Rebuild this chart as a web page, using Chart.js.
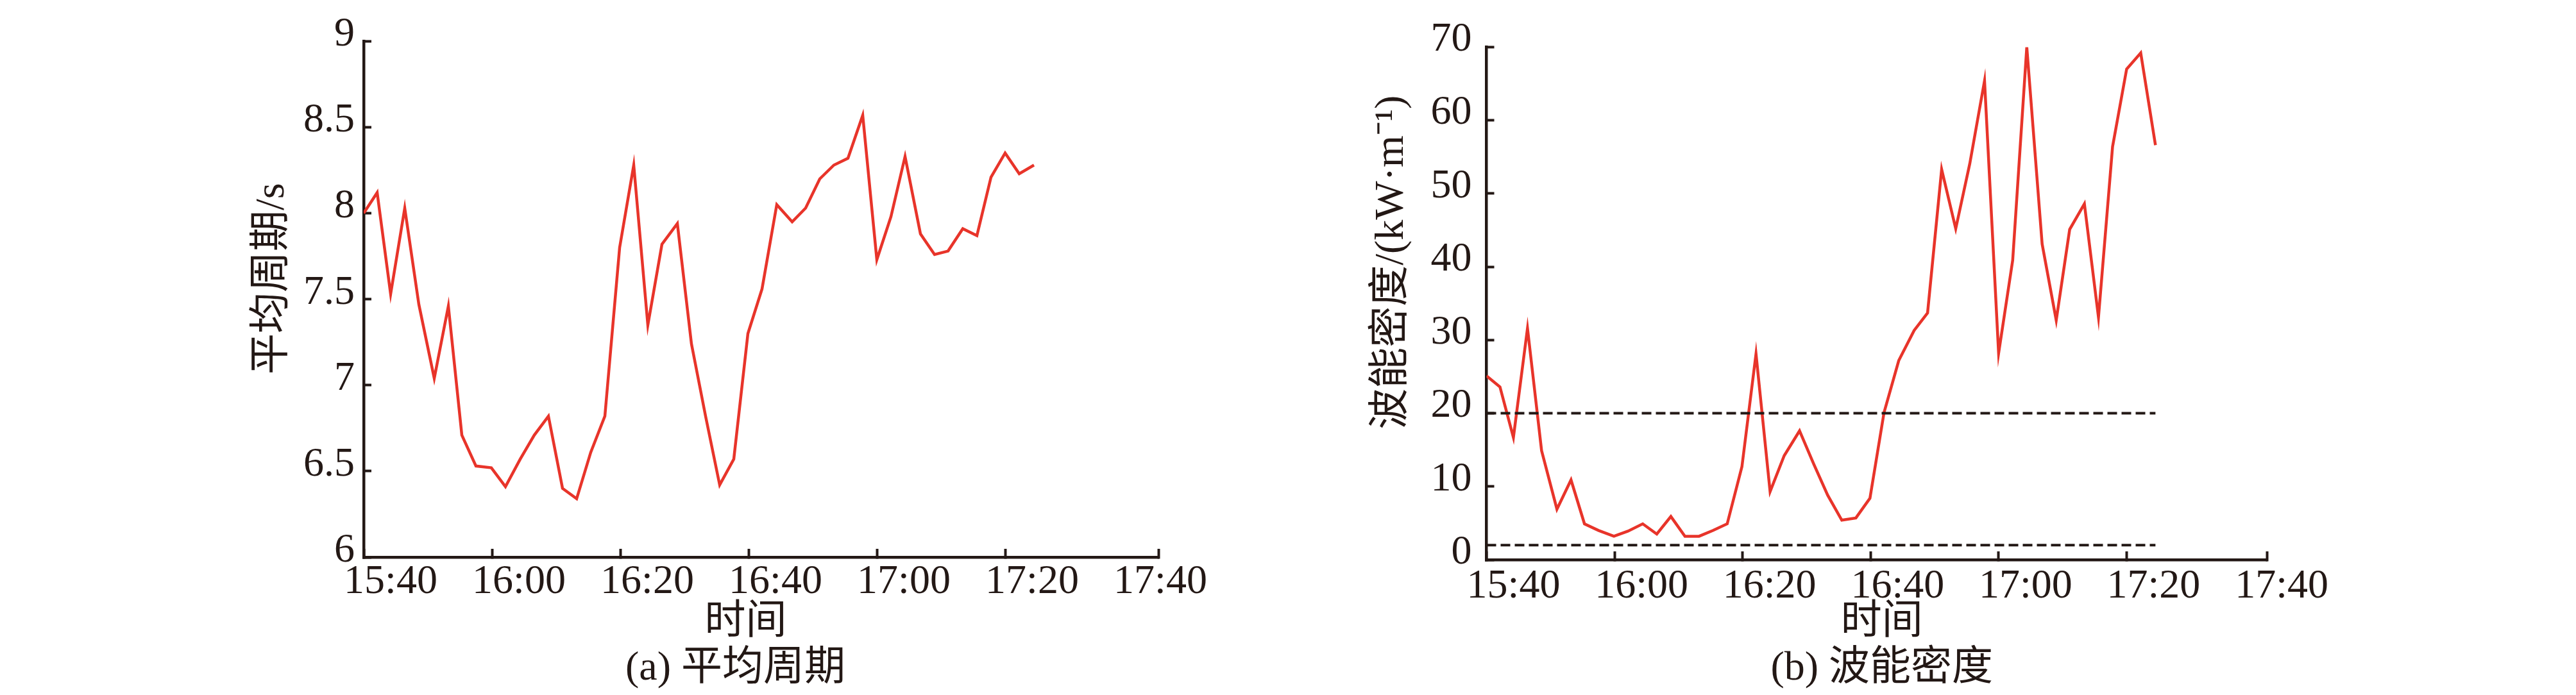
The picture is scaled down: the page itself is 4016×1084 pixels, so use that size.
<!DOCTYPE html>
<html>
<head>
<meta charset="utf-8">
<script src="https://cdn.jsdelivr.net/npm/chart.js@4.4.0/dist/chart.umd.min.js"></script>
<style>
  body { margin: 0; background: #fff; }
  #wrap { position: relative; width: 4016px; height: 1084px; }
  canvas { position: absolute; top: 0; }
</style>
</head>
<body>
<div id="wrap">
  <canvas id="periodChart" width="2008" height="1084" style="left:0"></canvas>
  <canvas id="powerChart" width="2008" height="1084" style="left:2008px"></canvas>
</div>
<script>
// minutes after 15:40
const times = [0, 2.1, 4.2, 6.4, 8.6, 11.0, 13.2, 15.3, 17.5, 19.9, 22.1, 24.4, 26.6, 28.8, 31.0, 33.2,
  35.4, 37.6, 39.9, 42.1, 44.3, 46.5, 48.9, 51.1, 53.3, 55.5, 57.7, 59.9, 62.1, 64.4, 66.8, 68.9,
  71.1, 73.3, 75.5, 77.8, 80.0, 82.2, 84.4, 86.8, 89.0, 91.1, 93.4, 95.6, 97.8, 100.0, 102.2, 104.5];

// mean period, s
const periods = [8.00, 8.12, 7.53, 8.03, 7.47, 7.04, 7.46, 6.71, 6.53, 6.52, 6.41, 6.57, 6.71, 6.82, 6.40, 6.34,
  6.61, 6.82, 7.80, 8.28, 7.35, 7.82, 7.94, 7.24, 6.82, 6.42, 6.57, 7.30, 7.56, 8.05, 7.95, 8.03,
  8.20, 8.28, 8.32, 8.57, 7.73, 7.98, 8.33, 7.88, 7.76, 7.78, 7.91, 7.87, 8.21, 8.35, 8.23, 8.28];

// wave power density, kW/m
const power = [25.1, 23.6, 16.7, 31.6, 14.9, 6.9, 10.9, 4.9, 4.0, 3.2, 3.9, 4.9, 3.5, 5.9, 3.2, 3.2,
  4.0, 4.9, 12.7, 28.1, 9.3, 14.2, 17.6, 13.1, 8.8, 5.4, 5.7, 8.4, 20.1, 27.2, 31.3, 33.7,
  53.3, 45.2, 54.1, 65.4, 28.2, 40.9, 70.0, 43.1, 32.7, 45.1, 48.6, 33.1, 56.4, 67.0, 69.2, 56.6];

const powerLimits = [20, 2];

const tickTimes = [0, 20, 40, 60, 80, 100, 120];
const tickLabels = ['15:40', '16:00', '16:20', '16:40', '17:00', '17:20', '17:40'];

const ink = '#231815';
const red = 'rgb(232,52,42)';

Chart.defaults.font.family = '"Liberation Serif", "Noto Sans CJK SC", serif';
Chart.defaults.color = ink;

function timeAxis(max, height, pad, title) {
  return {
    type: 'linear',
    min: 0,
    max: max,
    afterBuildTicks: axis => {
      axis.ticks = tickTimes.concat([max]).map(v => ({ value: v }));
    },
    afterFit: axis => { axis.height = height; },
    ticks: {
      autoSkip: false,
      maxRotation: 0,
      labelOffset: 42,
      padding: pad,
      font: { size: 64 },
      callback: v => {
        const i = tickTimes.indexOf(v);
        return i < 0 ? '' : tickLabels[i];
      }
    },
    grid: {
      drawOnChartArea: false,
      tickLength: -13,
      tickWidth: 4,
      tickColor: c => (c.tick && c.tick.value === 120) ? 'rgba(0,0,0,0)' : ink
    },
    border: { color: ink, width: 4.5 },
    title: { display: true, text: title, font: { size: 64, lineHeight: 1 }, padding: { top: 0, bottom: 1.6 } }
  };
}

function valueAxis(min, max, step, width, pad, offset, title) {
  return {
    min: min,
    max: max,
    afterFit: axis => { axis.width = width; },
    ticks: {
      stepSize: step,
      padding: pad,
      labelOffset: offset,
      font: { size: 64 },
      callback: v => String(v)
    },
    grid: { drawOnChartArea: false, tickLength: -12, tickWidth: 4, tickColor: ink },
    border: { color: ink, width: 4.5 },
    title: { display: true, text: title, font: { size: 64 }, padding: { top: 7, bottom: 0 } }
  };
}

function caption(text) {
  return {
    display: true,
    position: 'bottom',
    fullSize: false,
    text: text,
    color: ink,
    font: { size: 64, weight: 'normal' },
    padding: { top: 0, bottom: 2.6 }
  };
}

const periodPoints = times.map((t, i) => ({ x: t, y: periods[i] }));
const powerPoints = times.map((t, i) => ({ x: t, y: power[i] }));

new Chart(document.getElementById('periodChart'), {
  type: 'line',
  data: {
    datasets: [{
      data: periodPoints,
      borderColor: red,
      borderWidth: 4.5,
      pointRadius: 0,
      tension: 0
    }]
  },
  options: {
    responsive: false,
    animation: false,
    devicePixelRatio: 1,
    layout: { padding: { left: 380, right: 202, top: 47, bottom: 0 } },
    scales: {
      x: timeAxis(123.9, 135.6, 13.6, '时间   '),
      y: valueAxis(6, 9, 0.5, 187, 26, -10, '    平均周期/s')
    },
    plugins: {
      legend: { display: false },
      tooltip: { enabled: false },
      title: caption('(a) 平均周期     ')
    }
  }
});

const limitSets = powerLimits.map(v => ({
  data: [{ x: times[0], y: v }, { x: times[times.length - 1], y: v }],
  borderColor: ink,
  borderWidth: 4,
  borderDash: [15, 7],
  pointRadius: 0
}));

new Chart(document.getElementById('powerChart'), {
  type: 'line',
  data: {
    datasets: limitSets.concat([{
      data: powerPoints,
      borderColor: red,
      borderWidth: 4.5,
      pointRadius: 0,
      tension: 0
    }])
  },
  options: {
    responsive: false,
    animation: false,
    devicePixelRatio: 1,
    layout: { padding: { left: 117, right: 482, top: 47, bottom: 0 } },
    scales: {
      x: timeAxis(121.9, 131.6, 16.6, ' 时间'),
      y: valueAxis(0, 70, 10, 192.5, 35, -11, '        波能密度/(kW·m⁻¹)')
    },
    plugins: {
      legend: { display: false },
      tooltip: { enabled: false },
      title: caption(' (b) 波能密度')
    }
  }
});
</script>
</body>
</html>
